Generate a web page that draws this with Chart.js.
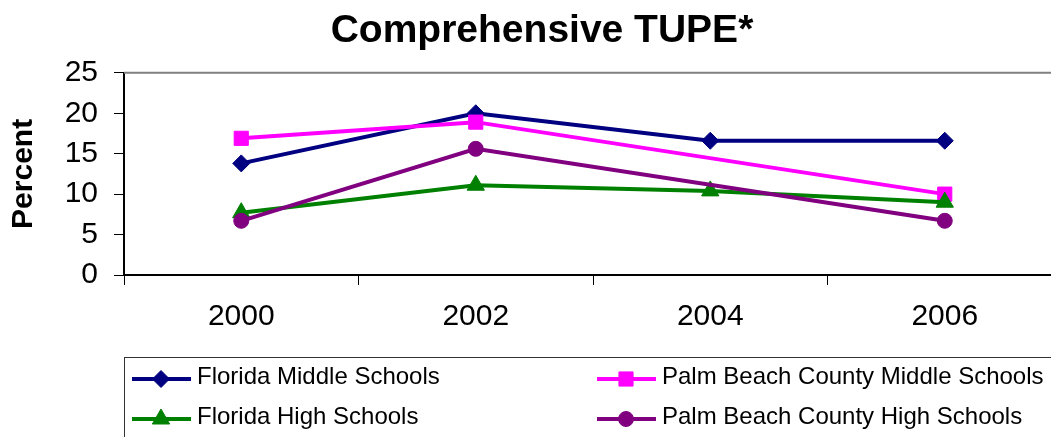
<!DOCTYPE html>
<html>
<head>
<meta charset="utf-8">
<script src="https://cdn.jsdelivr.net/npm/chart.js@4/dist/chart.umd.min.js"></script>
<style>
  html, body { margin: 0; padding: 0; background: #fff; overflow: hidden; }
  #wrap { position: relative; width: 1084px; height: 437px; }
</style>
</head>
<body>
<div id="wrap"><canvas id="c"></canvas></div>
<script>
// ---- data ----
const categories = ['2000', '2002', '2004', '2006'];
const floridaMiddle = [13.8, 20.0, 16.6, 16.6];
const palmBeachMiddle = [16.9, 18.9, null, 10.0];
const floridaHigh = [7.7, 11.1, 10.4, 9.0];
const palmBeachHigh = [6.7, 15.6, null, 6.7];
const seriesNames = ['Florida Middle Schools', 'Palm Beach County Middle Schools', 'Florida High Schools', 'Palm Beach County High Schools'];
const yTicks = [0, 5, 10, 15, 20, 25];
const chartTitle = 'Comprehensive TUPE*';
const yTitle = 'Percent';

const FONT = "'Liberation Sans', Arial, Helvetica, sans-serif";
Chart.defaults.font.family = FONT;
Chart.defaults.color = '#000';

const styles = [
  { color: '#000080', pointStyle: 'rectRot', radius: 8.5, order: 4 },
  { color: '#FF00FF', pointStyle: 'rect', radius: 10, order: 3 },
  { color: '#008000', pointStyle: 'triangle', radius: 10, order: 2 },
  { color: '#800080', pointStyle: 'circle', radius: 7.5, order: 1 }
];
const seriesData = [floridaMiddle, palmBeachMiddle, floridaHigh, palmBeachHigh];

const datasets = seriesData.map((d, i) => ({
  label: seriesNames[i],
  data: d,
  borderColor: styles[i].color,
  backgroundColor: styles[i].color,
  pointBackgroundColor: styles[i].color,
  pointBorderColor: styles[i].color,
  pointBorderWidth: 1,
  pointStyle: styles[i].pointStyle,
  pointRadius: styles[i].radius,
  pointHoverRadius: styles[i].radius,
  borderWidth: 4,
  tension: 0,
  spanGaps: true,
  order: styles[i].order
}));

function drawMarker(ctx, style, x, y, r, color) {
  ctx.save();
  ctx.fillStyle = color;
  ctx.strokeStyle = color;
  ctx.lineWidth = 1;
  ctx.beginPath();
  if (style === 'rectRot') {
    ctx.moveTo(x, y - r); ctx.lineTo(x + r, y); ctx.lineTo(x, y + r); ctx.lineTo(x - r, y);
    ctx.closePath();
  } else if (style === 'rect') {
    const s = r * Math.SQRT1_2;
    ctx.rect(x - s, y - s, 2 * s, 2 * s);
  } else if (style === 'triangle') {
    for (let k = 0; k < 3; k++) {
      const a = k * 2 * Math.PI / 3;
      const px = x + Math.sin(a) * r, py = y - Math.cos(a) * r;
      if (k === 0) ctx.moveTo(px, py); else ctx.lineTo(px, py);
    }
    ctx.closePath();
  } else {
    ctx.arc(x, y, r, 0, Math.PI * 2);
  }
  ctx.fill();
  ctx.stroke();
  ctx.restore();
}

const frameAndLegend = {
  id: 'frameAndLegend',
  beforeDatasetsDraw(chart) {
    const { ctx, chartArea: a } = chart;
    ctx.save();
    ctx.strokeStyle = '#808080';
    ctx.lineWidth = 2;
    ctx.beginPath();
    ctx.moveTo(a.left, a.top);
    ctx.lineTo(a.right, a.top);
    ctx.lineTo(a.right, a.bottom);
    ctx.stroke();
    ctx.restore();
  },
  afterDraw(chart) {
    const ctx = chart.ctx;
    ctx.save();
    ctx.strokeStyle = '#333';
    ctx.lineWidth = 1;
    ctx.strokeRect(124.5, 357.5, 1100, 200);
    const slots = [
      { x: 132, y: 379 }, { x: 597, y: 379 },
      { x: 132, y: 419 }, { x: 597, y: 419 }
    ];
    chart.data.datasets.forEach((ds, i) => {
      const s = slots[i];
      ctx.strokeStyle = ds.borderColor;
      ctx.lineWidth = 4;
      ctx.beginPath();
      ctx.moveTo(s.x, s.y);
      ctx.lineTo(s.x + 59, s.y);
      ctx.stroke();
      drawMarker(ctx, ds.pointStyle, s.x + 29, s.y, ds.pointRadius, ds.borderColor);
      ctx.fillStyle = '#000';
      ctx.font = '24px ' + FONT;
      ctx.textBaseline = 'middle';
      ctx.textAlign = 'left';
      ctx.fillText(ds.label, s.x + 65, s.y - 2);
    });
    ctx.restore();
  }
};

new Chart(document.getElementById('c'), {
  type: 'line',
  data: { labels: categories, datasets },
  plugins: [frameAndLegend],
  options: {
    responsive: true,
    maintainAspectRatio: false,
    animation: false,
    layout: { padding: 0 },
    plugins: {
      legend: { display: false },
      tooltip: { enabled: false },
      title: {
        display: true,
        text: chartTitle,
        color: '#000',
        font: { size: 39, weight: 'bold', family: FONT },
        padding: { top: 8, bottom: 18 }
      }
    },
    scales: {
      x: {
        type: 'category',
        offset: true,
        grid: { offset: true, drawOnChartArea: false, drawTicks: true, tickLength: 10, color: '#000', lineWidth: 1 },
        border: { display: true, color: '#000', width: 2 },
        ticks: { font: { size: 30, family: FONT }, color: '#000', padding: 14, maxRotation: 0, autoSkip: false },
        afterFit(s) { s.height = 162; }
      },
      y: {
        min: 0,
        max: 25,
        afterBuildTicks(s) { s.ticks = yTicks.map(v => ({ value: v })); },
        grid: { drawOnChartArea: false, drawTicks: true, tickLength: 10, color: '#000', lineWidth: 1 },
        border: { display: true, color: '#000', width: 2 },
        ticks: { font: { size: 30, family: FONT }, color: '#000', padding: 16 },
        title: {
          display: true,
          text: yTitle,
          color: '#000',
          font: { size: 30, weight: 'bold', family: FONT },
          padding: { top: 6, bottom: 0 }
        },
        afterFit(s) { s.width = 124; }
      },
      ySpacer: {
        position: 'right',
        display: true,
        min: 0,
        max: 25,
        grid: { display: false, drawTicks: false },
        border: { display: false },
        ticks: { display: false },
        afterFit(s) { s.width = 22; }
      }
    }
  }
});
</script>
</body>
</html>
